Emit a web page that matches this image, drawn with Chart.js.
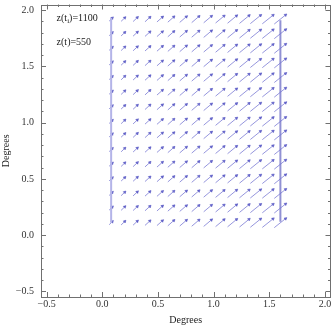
<!DOCTYPE html>
<html><head><meta charset="utf-8">
<script src="https://cdn.jsdelivr.net/npm/chart.js@4/dist/chart.umd.min.js"></script>
<style>html,body{margin:0;padding:0;background:#fff}</style>
</head><body>
<canvas id="c" width="335" height="327"></canvas>
<script>
// ---- data ----
const gridX = [0.08, 0.19, 0.30, 0.41, 0.52, 0.62, 0.73, 0.84, 0.95, 1.06, 1.17, 1.28, 1.38, 1.49, 1.60];
const gridY = [1.92, 1.79, 1.66, 1.53, 1.40, 1.27, 1.14, 1.01, 0.89, 0.76, 0.63, 0.50, 0.37, 0.24, 0.11];
const arrowU = [0.036, 0.041, 0.046, 0.052, 0.057, 0.062, 0.068, 0.073, 0.078, 0.084, 0.089, 0.094, 0.100, 0.105, 0.110];
const arrowV = [0.035, 0.039, 0.043, 0.047, 0.050, 0.054, 0.058, 0.062, 0.065, 0.069, 0.073, 0.076, 0.080, 0.083, 0.087];
const leftLineX = [0.08, 0.08];
const leftLineY = [0.11, 1.93];
const rightLineX = [1.60, 1.60];
const rightLineY = [0.12, 1.91];
const tickValues = [-0.5, 0, 0.5, 1, 1.5, 2];
const tickLabels = ['\u22120.5', '0.0', '0.5', '1.0', '1.5', '2.0'];
const minorTickValues = [-0.4, -0.3, -0.2, -0.1, 0.1, 0.2, 0.3, 0.4, 0.6, 0.7, 0.8, 0.9, 1.1, 1.2, 1.3, 1.4, 1.6, 1.7, 1.8, 1.9];
const axisMin = -0.55, axisMax = 2.05;
const noteMain = ['z(t', 'z(t)=550'];
const noteSub = ['i', ''];
const noteRest = [')=1100', ''];
const noteX = [-0.41, -0.41];
const noteY = [1.93, 1.71];
const axisTitle = 'Degrees';

// ---- build datasets ----
const FONT = '"Liberation Serif", "DejaVu Serif", serif';
const shafts = [], heads = [], headRot = [];
gridY.forEach(gy => {
  gridX.forEach((gx, c) => {
    const u = arrowU[c], v = arrowV[c];
    shafts.push({x: gx - u / 2, y: gy - v / 2}, {x: gx + u / 2, y: gy + v / 2}, {x: null, y: null});
    const L = Math.hypot(u, v), back = 0.011;
    heads.push({x: gx + u / 2 - back * u / L, y: gy + v / 2 - back * v / L});
    headRot.push(90 - Math.atan2(v, u) * 180 / Math.PI);
  });
});
const pts = (xs, ys) => xs.map((x, i) => ({x, y: ys[i]}));

const framePlugin = {
  id: 'frame',
  afterDraw(chart) {
    const {ctx, chartArea: a, scales: {x, y}} = chart;
    ctx.save();
    ctx.strokeStyle = '#707070';
    ctx.lineWidth = 1;
    ctx.strokeRect(Math.round(a.left) + 0.5, Math.round(a.top) + 0.5, Math.round(a.right - a.left) - 1, Math.round(a.bottom - a.top) - 1);
    const drawTicks = (vals, len) => {
      ctx.beginPath();
      vals.forEach(v => {
        const px = Math.round(x.getPixelForValue(v)) + 0.5;
        ctx.moveTo(px, a.bottom); ctx.lineTo(px, a.bottom - len);
        ctx.moveTo(px, a.top); ctx.lineTo(px, a.top + len);
        const py = Math.round(y.getPixelForValue(v)) + 0.5;
        ctx.moveTo(a.left, py); ctx.lineTo(a.left + len, py);
        ctx.moveTo(a.right, py); ctx.lineTo(a.right - len, py);
      });
      ctx.stroke();
    };
    drawTicks(tickValues, 5);
    drawTicks(minorTickValues, 2.5);
    // annotations
    ctx.fillStyle = '#222';
    ctx.textBaseline = 'middle';
    ctx.textAlign = 'left';
    noteMain.forEach((t, i) => {
      let px = x.getPixelForValue(noteX[i]);
      const py = y.getPixelForValue(noteY[i]);
      ctx.font = '10px ' + FONT;
      ctx.fillText(t, px, py);
      px += ctx.measureText(t).width;
      if (noteSub[i]) {
        ctx.font = '7px ' + FONT;
        ctx.fillText(noteSub[i], px, py + 3);
        px += ctx.measureText(noteSub[i]).width;
      }
      if (noteRest[i]) {
        ctx.font = '10px ' + FONT;
        ctx.fillText(noteRest[i], px, py);
      }
    });
    ctx.restore();
  }
};

const labelFor = v => {
  const i = tickValues.findIndex(t => Math.abs(t - v) < 1e-9);
  return i >= 0 ? tickLabels[i] : '';
};
const setTicks = s => { s.ticks = tickValues.map(v => ({value: v})); };

new Chart(document.getElementById('c'), {
  type: 'scatter',
  data: {
    datasets: [
      {data: pts(leftLineX, leftLineY), showLine: true, borderColor: 'rgb(180,180,232)', borderWidth: 2, pointRadius: 0},
      {data: shafts, showLine: true, spanGaps: false, borderColor: 'rgba(115,115,210,0.75)', borderWidth: 1, pointRadius: 0},
      {data: heads, showLine: false, pointStyle: 'triangle', pointRadius: 1.6, pointRotation: headRot,
       backgroundColor: 'rgb(82,82,192)', borderColor: 'rgb(82,82,192)', borderWidth: 0.5},
      {data: pts(rightLineX, rightLineY), showLine: true, borderColor: 'rgb(145,145,212)', borderWidth: 2, pointRadius: 0}
    ]
  },
  options: {
    responsive: false,
    devicePixelRatio: 1,
    animation: false,
    events: [],
    layout: {padding: {top: 3, right: 2, left: 0, bottom: 0}},
    plugins: {legend: {display: false}, tooltip: {enabled: false}},
    scales: {
      x: {
        type: 'linear', min: axisMin, max: axisMax,
        afterBuildTicks: setTicks,
        afterFit: s => { s.height = 30; s.paddingLeft = 0; s.paddingRight = 0; },
        grid: {display: false, drawTicks: false}, border: {display: false},
        ticks: {padding: 1, color: '#333', font: {family: FONT, size: 10}, callback: labelFor, maxRotation: 0, autoSkip: false},
        title: {display: true, text: axisTitle, color: '#222', font: {family: FONT, size: 10}, padding: {top: 0, bottom: 1}}
      },
      y: {
        type: 'linear', min: axisMin, max: axisMax,
        afterBuildTicks: setTicks,
        afterFit: s => { s.width = 41; s.paddingTop = 0; s.paddingBottom = 0; },
        grid: {display: false, drawTicks: false}, border: {display: false},
        ticks: {padding: 7, color: '#333', font: {family: FONT, size: 10}, callback: labelFor, autoSkip: false},
        title: {display: true, text: axisTitle, color: '#222', font: {family: FONT, size: 10}, padding: {top: 0, bottom: 0}}
      }
    }
  },
  plugins: [framePlugin]
});
</script>
</body></html>
